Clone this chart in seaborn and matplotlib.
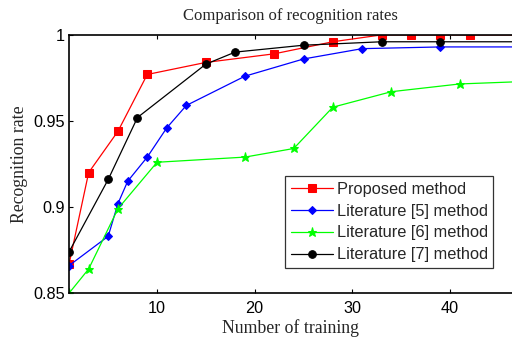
import pandas as pd
import matplotlib.pyplot as plt
import seaborn as sns

# data
x_prop = [1, 3, 6, 9, 15, 22, 28, 33, 36, 39, 42, 48]
y_prop = [0.867, 0.920, 0.944, 0.977, 0.984, 0.989, 0.996, 1.0, 1.0, 1.0, 1.0, 1.0]

x_lit5 = [1, 5, 6, 7, 9, 11, 13, 19, 25, 31, 39, 48]
y_lit5 = [0.866, 0.883, 0.902, 0.915, 0.929, 0.946, 0.959, 0.976, 0.986, 0.992, 0.993, 0.993]

x_lit6 = [1, 3, 6, 10, 19, 24, 28, 34, 41, 48]
y_lit6 = [0.850, 0.864, 0.899, 0.926, 0.929, 0.934, 0.958, 0.967, 0.9715, 0.973]

x_lit7 = [1, 5, 8, 15, 18, 25, 33, 39, 48]
y_lit7 = [0.874, 0.916, 0.952, 0.983, 0.990, 0.994, 0.996, 0.996, 0.996]

labels = ["Proposed method", "Literature [5] method",
          "Literature [6] method", "Literature [7] method"]
colors = ["#ff0000", "#0000ff", "#00ff00", "#000000"]
markers = ["s", "D", "*", "o"]
msizes = [5.5, 4.5, 6.5, 5.5]

sns.set_style("ticks")
plt.rcParams["font.family"] = ["Liberation Sans", "DejaVu Sans"]

fig = plt.figure(figsize=(5.12, 3.42), dpi=100)
ax = fig.add_axes([0.135, 0.143, 0.866, 0.755])

series = [(x_prop, y_prop), (x_lit5, y_lit5), (x_lit6, y_lit6), (x_lit7, y_lit7)]
for (xs, ys), lab, c, m, ms in zip(series, labels, colors, markers, msizes):
    df = pd.DataFrame({"x": xs, "y": ys})
    sns.lineplot(data=df, x="x", y="y", ax=ax, color=c, marker=m, markersize=ms,
                 markeredgecolor=c, linewidth=0.9, label=lab, sort=False)

ax.set_xlim(1, 46.4)
ax.set_ylim(0.85, 1.0)
ax.set_xticks([10, 20, 30, 40])
ax.set_yticks([0.85, 0.9, 0.95, 1.0])
ax.set_yticklabels(["0.85", "0.9", "0.95", "1"])
ax.tick_params(direction="in", top=True, right=False, labelsize=11.7, length=3,
               width=0.8, colors="black")
ax.tick_params(axis="x", pad=6)
ax.tick_params(axis="y", pad=3)
for s in ax.spines.values():
    s.set_linewidth(1.2)
    s.set_color("black")

ax.set_title("Comparison of recognition rates", fontfamily="Liberation Serif",
             fontsize=12, pad=11)
ax.set_xlabel("Number of training", fontfamily="Liberation Serif", fontsize=12.8, labelpad=2)
ax.set_ylabel("Recognition rate", fontfamily="Liberation Serif", fontsize=12.8, labelpad=4)

leg = ax.legend(loc="lower right", bbox_to_anchor=(0.957, 0.097), borderaxespad=0,
                fontsize=11.8, frameon=True, fancybox=False, edgecolor="black",
                handlelength=2.6, handletextpad=0.2, labelspacing=0.42, borderpad=0.35)
leg.get_frame().set_linewidth(0.9)

plt.savefig("out.png", dpi=100)
plt.close()
